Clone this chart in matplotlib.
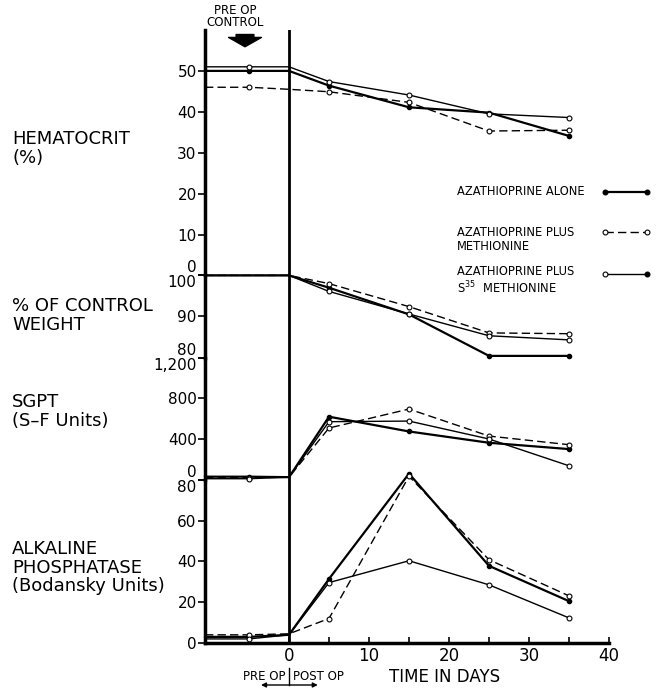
import matplotlib.pyplot as plt
import matplotlib.transforms as mtransforms
from matplotlib.lines import Line2D

# days relative to operation; first point is the left edge of the pre-op bar
days = [-10.5, -5, 0, 5, 15, 25, 35]

hct_alone = [50, 50, 50, 46.4, 41.1, 39.8, 34.1]
hct_meth = [46, 46, 45.5, 44.9, 42.3, 35.3, 35.5]
hct_s35 = [51, 51, 51, 47.4, 44.1, 39.5, 38.6]

wt_alone = [100, 100, 100, 97.0, 90.5, 80.4, 80.4]
wt_meth = [100, 100, 100, 98.0, 92.4, 86.0, 85.8]
wt_s35 = [100, 100, 100, 96.1, 90.6, 85.3, 84.3]

sgpt_alone = [30, 30, 25, 619, 474, 363, 301]
sgpt_meth = [20, 20, 25, 508, 694, 429, 344]
sgpt_s35 = [10, 10, 25, 570, 576, 400, 137]

alk_alone = [3, 3, 4, 31.4, 83, 37.8, 20.5]
alk_meth = [4, 4, 4.5, 12, 81.7, 40.8, 23.1]
alk_s35 = [2, 2, 4, 29.6, 40.3, 28.5, 12.3]

labels = ["AZATHIOPRINE ALONE",
          "AZATHIOPRINE PLUS\nMETHIONINE",
          "AZATHIOPRINE PLUS\nS$^{35}$  METHIONINE"]

panels = [
    ("HEMATOCRIT\n(%)", (hct_alone, hct_meth, hct_s35), (0, 60),
     [0, 10, 20, 30, 40, 50], ["0", "10", "20", "30", "40", "50"]),
    ("% OF CONTROL\nWEIGHT", (wt_alone, wt_meth, wt_s35), (80, 100),
     [80, 90, 100], ["80", "90", "100"]),
    ("SGPT\n(S\u2013F Units)", (sgpt_alone, sgpt_meth, sgpt_s35), (0, 1200),
     [0, 400, 800, 1200], ["0", "400", "800", "1,200"]),
    ("ALKALINE\nPHOSPHATASE\n(Bodansky Units)", (alk_alone, alk_meth, alk_s35), (0, 80),
     [0, 20, 40, 60, 80], ["0", "20", "40", "60", "80"]),
]
label_tops = [130, 297, 393, 540]

styles = [
    dict(color="k", lw=1.6, marker="o", ms=3, mfc="k"),
    dict(color="k", lw=1.0, ls=(0, (6, 3)), marker="o", ms=3.5, mfc="white", mew=0.8),
    dict(color="k", lw=1.0, marker="o", ms=3.5, mfc="white", mew=0.8),
]

W, H = 659, 694
fig = plt.figure(figsize=(W / 100, H / 100), dpi=100)
gs = fig.add_gridspec(4, 1, height_ratios=[245, 82, 122, 163], hspace=0,
                      left=205 / W, right=609 / W, bottom=1 - 643 / H, top=1 - 30 / H)

axes = []
for i, (title, series, ylim, yt, ytl) in enumerate(panels):
    ax = fig.add_subplot(gs[i], sharex=axes[0] if axes else None)
    axes.append(ax)
    ax.patch.set_visible(False)
    mk = [3, 4, 5, 6] if i == 1 else [1, 3, 4, 5, 6]
    for vals, st in zip(series, styles):
        ax.plot(days, vals, markevery=mk, clip_on=False, **st)
    ax.axvline(0, color="k", lw=2)
    ax.set_ylim(*ylim)
    ax.set_yticks(yt)
    ax.set_yticklabels(ytl, fontsize=11)
    ax.tick_params(axis="y", length=5, width=1.2, pad=1)
    for s in ["top", "right"]:
        ax.spines[s].set_visible(False)
    ax.spines["left"].set_linewidth(2.5)
    if i < 3:
        ax.spines["bottom"].set_visible(False)
        ax.tick_params(axis="x", which="both", bottom=False, labelbottom=False)
    # labels at panel joins sit above / below the join line
    tl = ax.get_yticklabels()
    if i > 0:
        tl[-1].set_verticalalignment("top")
    if i < 3:
        tl[0].set_verticalalignment("bottom")
    fig.text(12 / W, 1 - label_tops[i] / H, title, fontsize=13, va="top",
             ha="left", linespacing=1.05)

axb = axes[-1]
axb.set_xlim(-10.5, 40)
axb.set_xticks([0, 10, 20, 30, 40])
axb.set_xticks([5, 15, 25, 35], minor=True)
axb.tick_params(axis="x", which="both", direction="in", length=4, width=1.2,
                labelsize=12, pad=3)
axb.spines["bottom"].set_linewidth(2.5)

# pre-op control arrow
ax0 = axes[0]
ax0.annotate("", xy=(-5.5, 55.9), xytext=(-5.5, 58.9),
             arrowprops=dict(arrowstyle="simple,head_length=0.21,head_width=0.74,tail_width=0.4",
                             color="k", mutation_scale=32, shrinkA=0, shrinkB=0))
tr = mtransforms.blended_transform_factory(ax0.transData, fig.transFigure)
fig.text(-6.7, 1 - 4 / H, "PRE OP\nCONTROL", transform=tr, fontsize=8.5,
         ha="center", va="top", linespacing=0.95)

# bottom annotations
trb = mtransforms.blended_transform_factory(axb.transData, fig.transFigure)
fig.text(-0.4, 1 - 676 / H, "PRE OP", transform=trb, fontsize=8.5, ha="right", va="center")
fig.text(0.5, 1 - 676 / H, "POST OP", transform=trb, fontsize=8.5, ha="left", va="center")
axb.annotate("", xy=(-3.5, 1 - 685 / H), xytext=(3.6, 1 - 685 / H), xycoords=trb,
             textcoords=trb, arrowprops=dict(arrowstyle="<|-|>", color="k", lw=1,
                                             mutation_scale=7, shrinkA=0, shrinkB=0),
             annotation_clip=False)
axb.plot([0, 0], [1 - 668 / H, 1 - 685 / H], color="k", lw=1, transform=trb, clip_on=False)
fig.text(19.4, 1 - 677 / H, "TIME IN DAYS", transform=trb, fontsize=12, ha="center", va="center")

# key: label on the left, line sample on the right
key_text_tops = [185, 226, 265]
key_line_y = [192, 232, 274]
key_ends = [("k", "k"), ("white", "white"), ("white", "k")]
for lab, ty, ly, st, ends in zip(labels, key_text_tops, key_line_y, styles, key_ends):
    fig.text(457 / W, 1 - ty / H, lab, fontsize=8.3, va="top", ha="left", linespacing=1.1)
    line_style = {k: v for k, v in st.items() if k not in ("marker", "ms", "mfc", "mew")}
    fig.add_artist(Line2D([605 / W, 647 / W], [1 - ly / H] * 2,
                          transform=fig.transFigure, **line_style))
    for x, fc in zip([605 / W, 647 / W], ends):
        fig.add_artist(Line2D([x], [1 - ly / H], transform=fig.transFigure, ls="none",
                              marker="o", ms=3.5, mfc=fc, mec="k", mew=0.8))

fig.savefig("out.png", dpi=100)
